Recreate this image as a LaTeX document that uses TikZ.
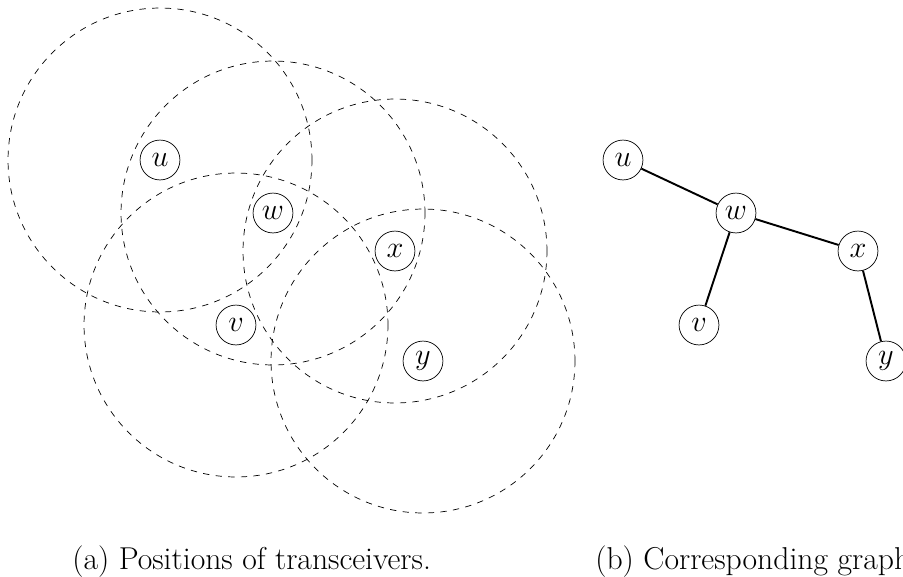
\documentclass[tikz,border=0pt]{standalone}
\usetikzlibrary{positioning}

\tikzset{
  transceiver/.style={draw, circle, inner sep=0pt, minimum size=22.7pt, font=\fontsize{17}{20}\selectfont},
  radiorange/.style={dash pattern=on 3.6pt off 3.6pt},
  link/.style={line width=1.1pt},
  caption/.style={anchor=base west, inner sep=0pt, font=\fontsize{18}{22}\selectfont}
}

\begin{document}
\begin{tikzpicture}[x=0.02cm, y=-0.02cm]
  % Size settings (in pixel units)
  \def\rangeradius{3.04cm}
  \def\graphshift{463}
  \useasboundingbox (0,0) rectangle (903,576);

  % Transceivers with their radio ranges
  \foreach \name/\px/\py in {u/160/160, w/273/213, x/395/251, v/236/325, y/423/361} {
    \draw[radiorange] (\px,\py) circle (\rangeradius);
    \node[transceiver] (\name) at (\px,\py) {$\name$};
  }

  % Corresponding graph, same layout shifted right
  \foreach \name/\px/\py in {u/160/160, w/273/213, x/395/251, v/236/325, y/423/361} {
    \node[transceiver] (g\name) at (\px+\graphshift,\py) {$\name$};
  }
  \draw[link] (gu) -- (gw);
  \draw[link] (gw) -- (gx);
  \draw[link] (gw) -- (gv);
  \draw[link] (gx) -- (gy);

  % Captions
  \node[caption] (capa) at (72,569) {(a) Positions of transceivers.};
  \node[caption] (capb) at (595,569) {(b) Corresponding graph};

\end{tikzpicture}
\end{document}
